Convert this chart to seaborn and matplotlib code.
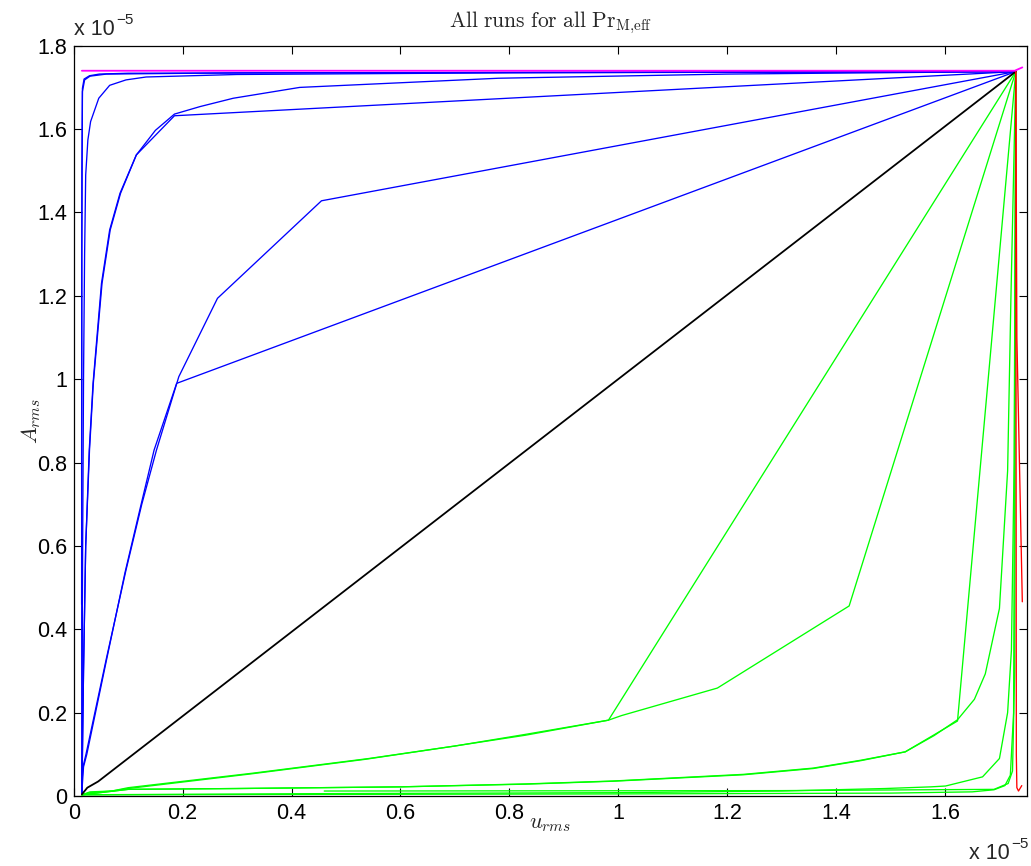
import numpy as np
import pandas as pd
import seaborn as sns
import matplotlib.pyplot as plt
from matplotlib.ticker import FixedLocator

# all values in units of 1e-5
# blue runs (A_rms grows first)
blue_1_x = [0.015, 0.0145, 0.015, 0.016, 0.019, 0.029, 0.047, 0.1, 0.5, 1.0, 1.73]
blue_1_y = [0.005, 0.8, 1.5, 1.698, 1.72, 1.728, 1.732, 1.734, 1.735, 1.736, 1.738]
blue_1b_x = [0.0145, 0.0148, 0.016, 0.02, 0.03, 0.06, 0.3, 1.73]
blue_1b_y = [0.46, 1.3, 1.69, 1.718, 1.727, 1.732, 1.735, 1.738]
blue_2_x = [0.015, 0.016, 0.018, 0.02, 0.022, 0.026, 0.031, 0.046, 0.066, 0.096, 0.133, 0.3, 0.8, 1.73]
blue_2_y = [0.005, 0.5, 1.0, 1.3, 1.49, 1.574, 1.618, 1.674, 1.705, 1.718, 1.725, 1.731, 1.735, 1.738]
blue_3a_x = [0.015, 0.016, 0.018, 0.022, 0.0285, 0.0355, 0.051, 0.066, 0.085, 0.115, 0.185, 1.73]
blue_3a_y = [0.005, 0.1, 0.3, 0.6, 0.83, 0.99, 1.23, 1.358, 1.446, 1.538, 1.632, 1.738]
blue_3b_x = [0.015, 0.016, 0.018, 0.022, 0.029, 0.036, 0.052, 0.067, 0.086, 0.115, 0.15, 0.185,
             0.232, 0.293, 0.415, 0.78, 1.2, 1.73]
blue_3b_y = [0.005, 0.1, 0.3, 0.6, 0.83, 0.99, 1.23, 1.358, 1.446, 1.538, 1.597, 1.636,
             1.654, 1.674, 1.70, 1.722, 1.732, 1.738]
blue_4_x = [0.015, 0.015, 0.017, 0.0225, 0.06, 0.096, 0.125, 0.152, 0.193, 0.264, 0.455, 1.73]
blue_4_y = [0.005, 0.03, 0.07, 0.10, 0.33, 0.542, 0.70, 0.83, 1.006, 1.194, 1.428, 1.738]
blue_5_x = [0.015, 0.016, 0.018, 0.024, 0.06, 0.094, 0.122, 0.1476, 0.189, 1.73]
blue_5_y = [0.005, 0.03, 0.07, 0.10, 0.325, 0.535, 0.69, 0.83, 0.99, 1.738]

# green runs (u_rms grows first)
green_1_x = [0.015, 0.5, 1.0, 1.5, 1.65, 1.69, 1.71, 1.72, 1.726, 1.728, 1.73]
green_1_y = [0.003, 0.004, 0.005, 0.007, 0.01, 0.015, 0.025, 0.05, 0.2, 1.0, 1.738]
green_1b_x = [0.46, 1.3, 1.69, 1.716, 1.724, 1.728, 1.73]
green_1b_y = [0.012, 0.013, 0.016, 0.03, 0.06, 0.3, 1.738]
green_2_x = [0.015, 0.5, 1.0, 1.3, 1.49, 1.574, 1.601, 1.669, 1.70, 1.715, 1.722, 1.727, 1.73]
green_2_y = [0.003, 0.006, 0.008, 0.012, 0.018, 0.022, 0.024, 0.046, 0.09, 0.2, 0.35, 0.8, 1.738]
green_3a_x = [0.015, 0.1, 0.3, 0.6, 0.83, 0.99, 1.23, 1.358, 1.446, 1.527, 1.623, 1.73]
green_3a_y = [0.003, 0.016, 0.018, 0.022, 0.0285, 0.0355, 0.051, 0.066, 0.085, 0.106, 0.18, 1.738]
green_3b_x = [0.015, 0.1, 0.3, 0.6, 0.83, 0.99, 1.23, 1.358, 1.446, 1.527, 1.58, 1.623,
              1.654, 1.674, 1.70, 1.715, 1.721, 1.73]
green_3b_y = [0.003, 0.016, 0.018, 0.022, 0.029, 0.036, 0.052, 0.067, 0.086, 0.106, 0.145, 0.183,
              0.232, 0.293, 0.45, 0.78, 1.19, 1.738]
green_4_x = [0.015, 0.03, 0.07, 0.10, 0.33, 0.542, 0.70, 0.83, 0.982, 1.006, 1.182, 1.424, 1.73]
green_4_y = [0.003, 0.01, 0.012, 0.02, 0.055, 0.09, 0.12, 0.148, 0.182, 0.193, 0.259, 0.456, 1.738]
green_5_x = [0.015, 0.03, 0.07, 0.10, 0.325, 0.535, 0.69, 0.83, 0.982, 1.73]
green_5_y = [0.003, 0.008, 0.012, 0.018, 0.053, 0.088, 0.118, 0.146, 0.182, 1.738]

# equipartition / limiting runs
black_x = [0.015, 0.025, 0.045, 1.73]
black_y = [0.004, 0.02, 0.035, 1.738]
magenta_x = [0.015, 1.728, 1.742]
magenta_y = [1.740, 1.740, 1.748]
red_1_x = [1.73, 1.731, 1.732, 1.735, 1.741]
red_1_y = [1.738, 0.1, 0.02, 0.012, 0.025]
red_2_x = [1.73, 1.732, 1.742]
red_2_y = [1.738, 1.1, 0.466]

x_ticks = [0, 0.2, 0.4, 0.6, 0.8, 1.0, 1.2, 1.4, 1.6]
x_tick_labels = ['0', '0.2', '0.4', '0.6', '0.8', '1', '1.2', '1.4', '1.6']
y_ticks = [0, 0.2, 0.4, 0.6, 0.8, 1.0, 1.2, 1.4, 1.6, 1.8]
y_tick_labels = ['0', '0.2', '0.4', '0.6', '0.8', '1', '1.2', '1.4', '1.6', '1.8']

runs = [
    (blue_1_x, blue_1_y, 'blue'), (blue_1b_x, blue_1b_y, 'blue'),
    (blue_2_x, blue_2_y, 'blue'), (blue_3a_x, blue_3a_y, 'blue'),
    (blue_3b_x, blue_3b_y, 'blue'), (blue_4_x, blue_4_y, 'blue'),
    (blue_5_x, blue_5_y, 'blue'),
    (green_1_x, green_1_y, 'lime'), (green_1b_x, green_1b_y, 'lime'),
    (green_2_x, green_2_y, 'lime'), (green_3a_x, green_3a_y, 'lime'),
    (green_3b_x, green_3b_y, 'lime'), (green_4_x, green_4_y, 'lime'),
    (green_5_x, green_5_y, 'lime'),
    (black_x, black_y, 'black'),
    (red_1_x, red_1_y, 'red'), (red_2_x, red_2_y, 'red'),
    (magenta_x, magenta_y, 'magenta'),
]

sns.set_style('ticks')
plt.rcParams['font.family'] = ['Liberation Sans', 'DejaVu Sans']
plt.rcParams['mathtext.fontset'] = 'cm'

fig = plt.figure(figsize=(10.31, 8.66), dpi=100)
ax = fig.add_axes([0.0715, 0.0808, 0.9243, 0.8664])

for xs, ys, col in runs:
    df = pd.DataFrame({'u': xs, 'A': ys})
    lw = 1.3 if col in ('black', 'magenta') else 0.95
    sns.lineplot(data=df, x='u', y='A', sort=False, estimator=None,
                 color=col, linewidth=lw, ax=ax)

ax.set_xlim(0, 1.75)
ax.set_ylim(0, 1.8)
ax.xaxis.set_major_locator(FixedLocator(x_ticks))
ax.yaxis.set_major_locator(FixedLocator(y_ticks))
ax.set_xticklabels(x_tick_labels)
ax.set_yticklabels(y_tick_labels)
ax.tick_params(direction='in', length=6, width=0.8, labelsize=15.5, colors='black',
               top=True, right=True, pad=5)
for sp in ax.spines.values():
    sp.set_visible(True)
    sp.set_linewidth(0.9)
    sp.set_color('black')

ax.set_xlabel(r'$u_{rms}$', fontsize=16)
ax.set_ylabel(r'$A_{rms}$', fontsize=16)
ax.xaxis.set_label_coords(0.5, -0.022)
ax.yaxis.set_label_coords(-0.032, 0.5)
ax.set_title(r'$\mathrm{All\ runs\ for\ all\ Pr}_{\mathrm{M{,}eff}}$', fontsize=15.5, pad=13)

# exponent markers like MATLAB
fig.text(74 / 1031, 1 - 35 / 866, 'x 10', fontsize=15.5, va='baseline')
fig.text(116 / 1031, 1 - 24 / 866, '\u22125', fontsize=11, va='baseline')
fig.text(969 / 1031, 1 - 859 / 866, 'x 10', fontsize=15.5, va='baseline')
fig.text(1011 / 1031, 1 - 848 / 866, '\u22125', fontsize=11, va='baseline')

fig.savefig('out.png', dpi=100, facecolor='white')
